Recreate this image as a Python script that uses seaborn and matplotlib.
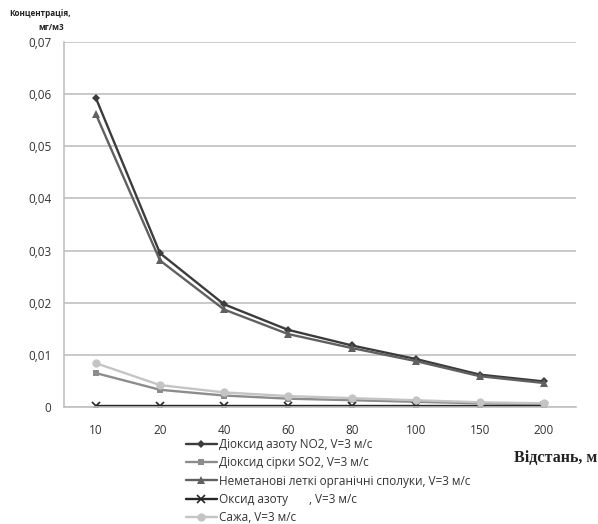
import numpy as np
import pandas as pd
import seaborn as sns
import matplotlib.pyplot as plt
from matplotlib.ticker import FuncFormatter

distances = ['10', '20', '40', '60', '80', '100', '150', '200']

no2 = [0.0592, 0.0295, 0.0197, 0.0148, 0.0118, 0.0092, 0.0062, 0.0049]
so2 = [0.0065, 0.0033, 0.0022, 0.0016, 0.0013, 0.0010, 0.0007, 0.0006]
nmvoc = [0.0561, 0.0281, 0.0187, 0.0140, 0.0113, 0.0088, 0.0059, 0.0046]
nox = [0.0002, 0.0002, 0.0002, 0.0002, 0.0002, 0.0002, 0.0002, 0.0002]
soot = [0.0084, 0.0042, 0.0028, 0.0021, 0.0017, 0.0013, 0.0009, 0.0007]

labels = ['Діоксид азоту NO2, V=3 м/с',
          'Діоксид сірки SO2, V=3 м/с',
          'Неметанові леткі органічні сполуки, V=3 м/с',
          'Оксид азоту       , V=3 м/с',
          'Сажа, V=3 м/с']

sns.set_style('white')
plt.rcParams['font.family'] = ['Open Sans', 'DejaVu Sans']

fig = plt.figure(figsize=(5.98, 5.24), dpi=100)
ax = fig.add_axes([64 / 598, 1 - 407 / 524, 512 / 598, 365 / 524])

pos = np.arange(len(distances))
series = [
    (no2, '#3c3c3c', 'D', 4),
    (so2, '#8c8c8c', 's', 5),
    (nmvoc, '#606060', '^', 6),
    (nox, '#262626', 'x', 6),
    (soot, '#c4c4c4', 'o', 6),
]
for (vals, col, mk, ms), lab in zip(series, labels):
    sns.lineplot(x=pos, y=vals, ax=ax, color=col, marker=mk, markersize=ms,
                 markeredgecolor=col, markeredgewidth=1.2 if mk == 'x' else 0,
                 linewidth=1.7, label=lab, legend=False)

ax.set_xlim(-0.5, len(distances) - 0.5)
ax.set_ylim(0, 0.07)
ax.set_yticks(np.arange(0, 0.0701, 0.01))
ax.yaxis.set_major_formatter(FuncFormatter(lambda v, p: '0' if v == 0 else f'{v:.2f}'.replace('.', ',')))
ax.set_xticks(pos)
ax.set_xticklabels(distances)
ax.tick_params(axis='both', labelsize=8.5, length=0, colors='#333333')
ax.tick_params(axis='x', pad=12)
ax.tick_params(axis='y', pad=9)
ax.grid(axis='y', color='#c0c0c0', linewidth=1.2)
for s in ['top', 'right']:
    ax.spines[s].set_visible(False)
ax.spines['left'].set_color('#c0c0c0')
ax.spines['bottom'].set_color('#c0c0c0')
ax.spines['left'].set_linewidth(1.2)
ax.spines['bottom'].set_linewidth(1.2)

fig.text(40 / 598, 1 - 13 / 524, 'Концентрація,', ha='center', va='center',
         fontsize=5.9, fontweight='bold', color='#222222')
fig.text(51 / 598, 1 - 28 / 524, 'мг/м3', ha='center', va='center',
         fontsize=5.9, fontweight='bold', color='#222222')
fig.text(597 / 598, 1 - 458 / 524, 'Відстань, м', ha='right', va='center',
         fontsize=11.5, fontweight='bold', family=['Liberation Serif', 'DejaVu Serif'],
         color='#222222')

h, l = ax.get_legend_handles_labels()
fig.legend(h, l, loc='upper left', bbox_to_anchor=(180 / 598, 1 - 432 / 524),
           frameon=False, fontsize=8.5, handlelength=2.6, handletextpad=0.2,
           labelspacing=0.45, borderpad=0, labelcolor='#333333')

fig.savefig('out.png', dpi=100)
